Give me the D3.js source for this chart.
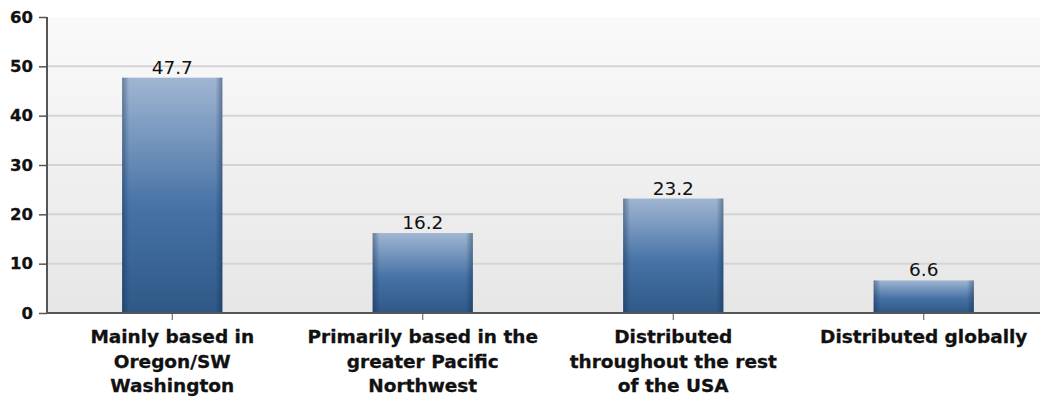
<!DOCTYPE html>
<html>
<head>
<meta charset="utf-8">
<script src="https://cdn.jsdelivr.net/npm/d3@7"></script>
<style>
  html, body { margin: 0; padding: 0; background: #fff; }
  svg { display: block; font-family: "DejaVu Sans", Verdana, sans-serif; }
</style>
</head>
<body>
<svg id="chart" width="1040" height="403"></svg>
<script>
// Where the respondents are based (percent)
const categories = [
  ["Mainly based in", "Oregon/SW", "Washington"],
  ["Primarily based in the", "greater Pacific", "Northwest"],
  ["Distributed", "throughout the rest", "of the USA"],
  ["Distributed globally"]
];
const values = [47.7, 16.2, 23.2, 6.6];
const yTicks = [0, 10, 20, 30, 40, 50, 60];

const svg = d3.select("#chart");
const margin = { left: 47, top: 17, bottom: 313 };
const plotRight = 1049;

const x = d3.scaleBand()
  .domain(d3.range(categories.length))
  .range([margin.left, plotRight])
  .paddingInner(0.6)
  .paddingOuter(0.3);

const y = d3.scaleLinear().domain([0, 60]).range([margin.bottom, margin.top]);

const defs = svg.append("defs");
const bg = defs.append("linearGradient").attr("id", "bg")
  .attr("x1", 0).attr("y1", 0).attr("x2", 0).attr("y2", 1);
bg.append("stop").attr("offset", "0%").attr("stop-color", "#fafafa");
bg.append("stop").attr("offset", "100%").attr("stop-color", "#e6e6e6");

const barG = defs.append("linearGradient").attr("id", "barFill")
  .attr("x1", 0).attr("y1", 0).attr("x2", 0).attr("y2", 1);
barG.append("stop").attr("offset", "0%").attr("stop-color", "#a0b6d2");
barG.append("stop").attr("offset", "55%").attr("stop-color", "#4672a6");
barG.append("stop").attr("offset", "100%").attr("stop-color", "#2f5886");

const edge = defs.append("linearGradient").attr("id", "barEdge")
  .attr("x1", 0).attr("y1", 0).attr("x2", 1).attr("y2", 0);
edge.append("stop").attr("offset", "0%").attr("stop-color", "#0b2344").attr("stop-opacity", 0.4);
edge.append("stop").attr("offset", "7%").attr("stop-color", "#0b2344").attr("stop-opacity", 0);
edge.append("stop").attr("offset", "93%").attr("stop-color", "#0b2344").attr("stop-opacity", 0);
edge.append("stop").attr("offset", "100%").attr("stop-color", "#0b2344").attr("stop-opacity", 0.4);

// plot background
svg.append("rect")
  .attr("x", margin.left).attr("y", margin.top)
  .attr("width", plotRight - margin.left).attr("height", margin.bottom - margin.top)
  .attr("fill", "url(#bg)");

// gridlines
svg.append("g").selectAll("line")
  .data(yTicks.filter(d => d > 0 && d < 60))
  .join("line")
  .attr("x1", margin.left).attr("x2", plotRight)
  .attr("y1", d => y(d)).attr("y2", d => y(d))
  .attr("stroke", "#d4d4d4").attr("stroke-width", 2);

// bars
const bars = svg.append("g").selectAll("g")
  .data(values)
  .join("g");
bars.append("rect")
  .attr("x", (d, i) => x(i)).attr("y", d => y(d))
  .attr("width", x.bandwidth()).attr("height", d => y(0) - y(d))
  .attr("fill", "url(#barFill)");
bars.append("rect")
  .attr("x", (d, i) => x(i)).attr("y", d => y(d))
  .attr("width", x.bandwidth()).attr("height", d => y(0) - y(d))
  .attr("fill", "url(#barEdge)");

// value labels
svg.append("g").selectAll("text")
  .data(values)
  .join("text")
  .attr("x", (d, i) => x(i) + x.bandwidth() / 2)
  .attr("y", d => y(d) - 4)
  .attr("text-anchor", "middle")
  .attr("font-size", 18.5)
  .attr("fill", "#111")
  .text(d => d.toFixed(1));

// y axis
const yAxis = svg.append("g")
  .attr("transform", `translate(${margin.left},0)`)
  .call(d3.axisLeft(y).tickValues(yTicks).tickSize(8).tickPadding(6));
yAxis.select(".domain").attr("stroke", "#555").attr("stroke-width", 2)
  .attr("d", `M0,${margin.top}V${margin.bottom}`);
yAxis.selectAll(".tick line").attr("stroke", "#555").attr("stroke-width", 1.5);
yAxis.selectAll(".tick text")
  .attr("font-family", "DejaVu Sans, Verdana, sans-serif")
  .attr("font-size", 16.5).attr("font-weight", "bold").attr("fill", "#111")
  .attr("stroke", "#111").attr("stroke-width", 0.3);

// x axis
const xAxis = svg.append("g")
  .attr("transform", `translate(0,${margin.bottom})`)
  .call(d3.axisBottom(x).tickSize(7).tickFormat(""));
xAxis.select(".domain").attr("stroke", "#555").attr("stroke-width", 2)
  .attr("d", `M${margin.left},0H${plotRight}`);
xAxis.selectAll(".tick line").attr("stroke", "#555");

// category labels (multi-line)
const catLabels = svg.append("g").selectAll("text")
  .data(categories)
  .join("text")
  .attr("text-anchor", "middle")
  .attr("font-size", 18.5)
  .attr("font-weight", "bold")
  .attr("fill", "#111")
  .attr("stroke", "#111").attr("stroke-width", 0.3);
catLabels.each(function (lines, i) {
  d3.select(this).selectAll("tspan")
    .data(lines)
    .join("tspan")
    .attr("x", x(i) + x.bandwidth() / 2)
    .attr("y", (d, k) => 343 + k * 24.5)
    .text(d => d);
});
</script>
</body>
</html>
